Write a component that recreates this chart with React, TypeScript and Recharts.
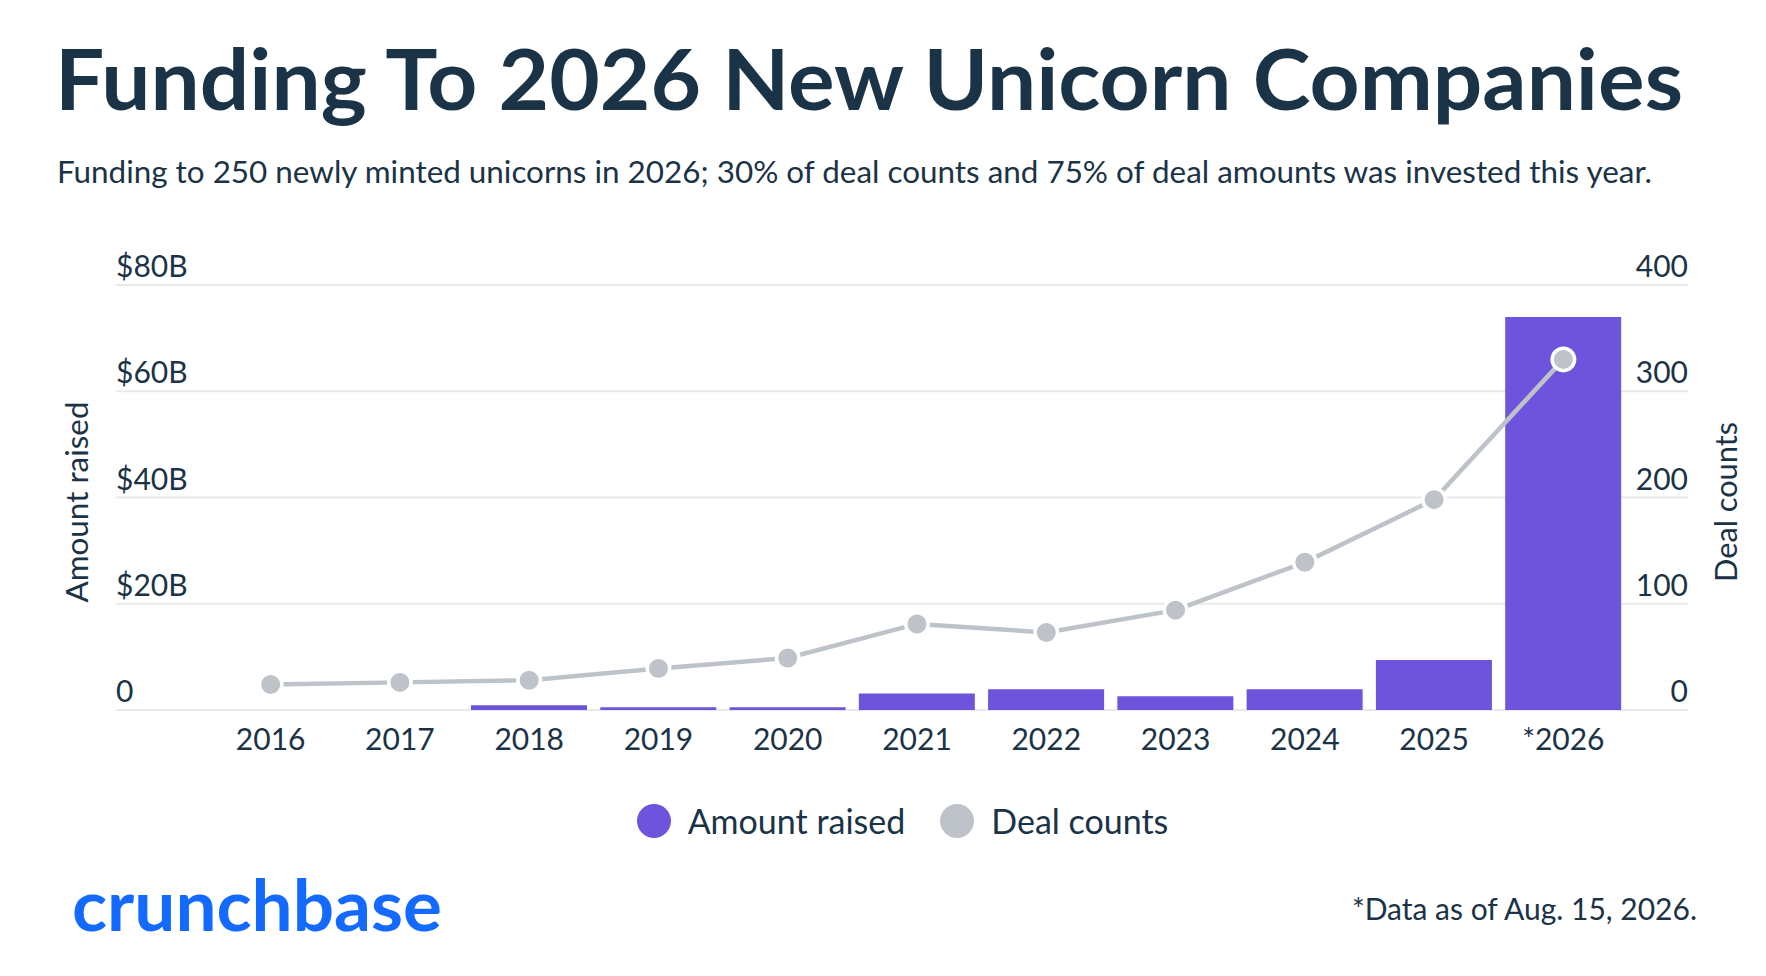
import { Bar, CartesianGrid, ComposedChart, Legend, Line, XAxis, YAxis } from "recharts";

const years = ["2016", "2017", "2018", "2019", "2020", "2021", "2022", "2023", "2024", "2025", "*2026"];
// billions of USD
const amountRaised = [0, 0, 0.9, 0.5, 0.5, 3.1, 3.9, 2.6, 3.9, 9.4, 74];
const dealCounts = [24, 26, 28, 39, 49, 81, 73, 94, 139, 198, 330];

const amountTicks = [0, 20, 40, 60, 80];
const countTicks = [0, 100, 200, 300, 400];

const data = years.map((year, i) => ({
  year,
  amount: amountRaised[i],
  deals: dealCounts[i],
}));

const ink = "#1b3346";
const purple = "#6e54dc";
const grey = "#bdc3c8";
const font = "Lato, 'Open Sans', sans-serif";

const fmtAmount = (v: number) => (v === 0 ? "0" : `$${v}B`);

const LeftTick = ({ x, y, payload }: any) => (
  <text x={x} y={y - 8} textAnchor="start" fontSize={30} fontFamily={font} fill={ink}>
    {fmtAmount(payload.value)}
  </text>
);

const RightTick = ({ x, y, payload }: any) => (
  <text x={x} y={y - 8} textAnchor="end" fontSize={30} fontFamily={font} fill={ink}>
    {payload.value}
  </text>
);

const YearTick = ({ x, y, payload }: any) => (
  <text x={x} y={y + 40} textAnchor="middle" fontSize={30} fontFamily={font} fill={ink}>
    {payload.value}
  </text>
);

const LegendContent = ({ payload }: any) => (
  <div
    style={{
      display: "flex",
      justifyContent: "center",
      alignItems: "center",
      paddingLeft: 74,
      fontFamily: font,
      fontSize: 34,
      color: ink,
    }}
  >
    {(payload || []).map((p: any) => (
      <div key={p.value} style={{ display: "flex", alignItems: "center", marginRight: 35 }}>
        <span
          style={{
            display: "inline-block",
            width: 34,
            height: 34,
            borderRadius: "50%",
            background: p.color,
            marginRight: 17,
          }}
        />
        <span>{p.value}</span>
      </div>
    ))}
  </div>
);

const App = () => {
  return (
    <div
      style={{
        position: "absolute",
        left: 0,
        top: 0,
        width: 1766,
        height: 976,
        background: "#fff",
        overflow: "hidden",
      }}
    >
      <ComposedChart
        width={1766}
        height={976}
        data={data}
        margin={{ top: 285, right: 77, bottom: 265, left: 115 }}
        barCategoryGap="5%"
      >
        <CartesianGrid vertical={false} yAxisId="left" stroke="#e8e9eb" strokeWidth={2} />
        <XAxis
          dataKey="year"
          height={1}
          padding={{ left: 90, right: 60 }}
          axisLine={false}
          tickLine={false}
          tickSize={0}
          tickMargin={0}
          interval={0}
          tick={<YearTick />}
        />
        <YAxis
          yAxisId="left"
          width={1}
          domain={[0, 80]}
          ticks={amountTicks}
          axisLine={false}
          tickLine={false}
          tickSize={0}
          tickMargin={0}
          tick={<LeftTick />}
        />
        <YAxis
          yAxisId="right"
          orientation="right"
          width={1}
          domain={[0, 400]}
          ticks={countTicks}
          axisLine={false}
          tickLine={false}
          tickSize={0}
          tickMargin={0}
          tick={<RightTick />}
        />
        <Bar
          yAxisId="left"
          dataKey="amount"
          name="Amount raised"
          fill={purple}
          isAnimationActive={false}
        />
        <Line
          yAxisId="right"
          dataKey="deals"
          name="Deal counts"
          type="linear"
          stroke={grey}
          strokeWidth={4.5}
          dot={{ r: 11.25, fill: grey, stroke: "#fff", strokeWidth: 3.5 }}
          activeDot={false}
          isAnimationActive={false}
        />
        <Legend
          layout="horizontal"
          verticalAlign="middle"
          align="center"
          width={1766}
          wrapperStyle={{ top: 800, left: 0, width: 1766 }}
          content={<LegendContent />}
        />
      </ComposedChart>

      <svg
        width={1766}
        height={976}
        style={{ position: "absolute", left: 0, top: 0, pointerEvents: "none" }}
      >
        <text
          x={55}
          y={110}
          fontSize={85}
          fontWeight={700}
          fontFamily={font}
          fill={ink}
          textLength={1628}
          lengthAdjust="spacingAndGlyphs"
        >
          Funding To 2026 New Unicorn Companies
        </text>
        <text
          x={57}
          y={183}
          fontSize={30}
          fontFamily={font}
          fill={ink}
          textLength={1595}
          lengthAdjust="spacingAndGlyphs"
        >
          Funding to 250 newly minted unicorns in 2026; 30% of deal counts and 75% of deal amounts was invested this year.
        </text>
        <text
          transform="translate(88, 502) rotate(-90)"
          textAnchor="middle"
          fontSize={31}
          fontFamily={font}
          fill={ink}
          textLength={201}
          lengthAdjust="spacingAndGlyphs"
        >
          Amount raised
        </text>
        <text
          transform="translate(1737, 502) rotate(-90)"
          textAnchor="middle"
          fontSize={31}
          fontFamily={font}
          fill={ink}
          textLength={160}
          lengthAdjust="spacingAndGlyphs"
        >
          Deal counts
        </text>
        <text
          x={72}
          y={931}
          fontSize={71}
          fontWeight={700}
          fontFamily={font}
          fill="#146aff"
          textLength={370}
          lengthAdjust="spacingAndGlyphs"
        >
          crunchbase
        </text>
        <text
          x={1697}
          y={920}
          textAnchor="end"
          fontSize={30}
          fontFamily={font}
          fill={ink}
        >
          *Data as of Aug. 15, 2026.
        </text>
      </svg>
    </div>
  );
};

export default App;
